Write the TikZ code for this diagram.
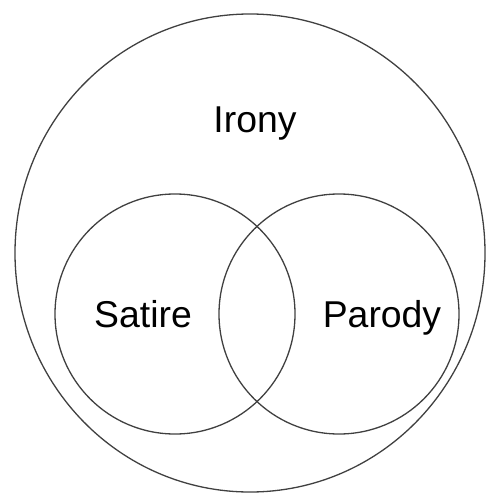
\documentclass[tikz,border=0pt]{standalone}
\usepackage{fontspec}
\setmainfont{Liberation Sans}
\usepackage{tikz}

\begin{document}
\begin{tikzpicture}[
  x=1bp, y=-1bp,
  ring/.style={draw=black!75, line width=1.3bp},
  lbl/.style={anchor=base, inner sep=0pt, font=\fontsize{37.5}{42}\selectfont}
]
\useasboundingbox (0,0) rectangle (486,493);
\draw[ring] (250,253) ellipse [x radius=235, y radius=239];
\draw[ring] (175,314) circle [radius=120];
\draw[ring] (339,314) circle [radius=120];
\node[lbl] (irony)  at (255,133) {Irony};
\node[lbl] (satire) at (143,327) {Satire};
\node[lbl] (parody) at (382,327) {Parody};
\end{tikzpicture}
\end{document}
